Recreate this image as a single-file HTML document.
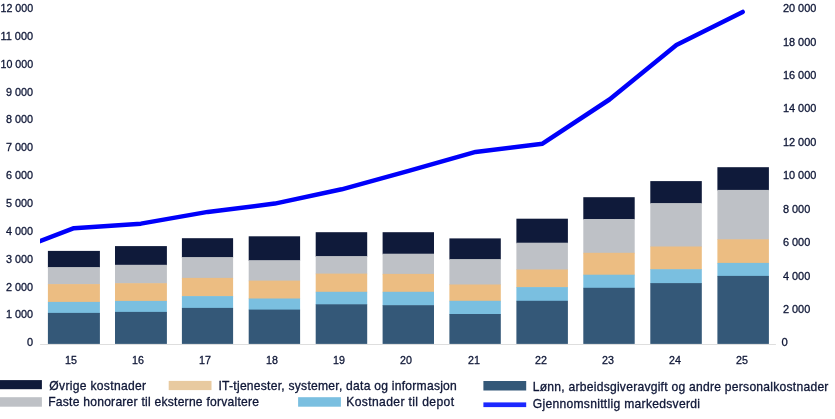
<!DOCTYPE html>
<html lang="no"><head><meta charset="utf-8"><title>Forvaltningskostnader</title>
<style>html,body{margin:0;padding:0;background:#fff}body{width:835px;height:419px;overflow:hidden}svg{display:block}.ax{font-family:"Liberation Sans",sans-serif;font-size:11.2px;fill:#0e1636;stroke:#0e1636;stroke-width:0.3px}.lg{font-family:"Liberation Sans",sans-serif;font-size:12.1px;fill:#0e1636;stroke:#0e1636;stroke-width:0.3px}</style></head><body>
<svg width="835" height="419" viewBox="0 0 835 419">
<rect width="835" height="419" fill="#fff"/>
<defs><clipPath id="plot"><rect x="40.1" y="0" width="740" height="344"/></clipPath></defs>
<rect x="40.1" y="344.0" width="735.8" height="0.8" fill="#d6d6d6"/>
<rect x="47.90" y="250.90" width="52.00" height="16.80" fill="#0f1a3a"/>
<rect x="47.90" y="267.10" width="52.00" height="17.60" fill="#bec1c6"/>
<rect x="47.90" y="284.10" width="52.00" height="18.40" fill="#ecbd82"/>
<rect x="47.90" y="301.90" width="52.00" height="11.60" fill="#7abfe0"/>
<rect x="47.90" y="312.90" width="52.00" height="31.00" fill="#345878"/>
<rect x="115.00" y="246.10" width="51.90" height="19.30" fill="#0f1a3a"/>
<rect x="115.00" y="264.80" width="51.90" height="19.00" fill="#bec1c6"/>
<rect x="115.00" y="283.20" width="51.90" height="18.30" fill="#ecbd82"/>
<rect x="115.00" y="300.90" width="51.90" height="11.60" fill="#7abfe0"/>
<rect x="115.00" y="311.90" width="51.90" height="32.00" fill="#345878"/>
<rect x="181.90" y="238.20" width="51.20" height="19.50" fill="#0f1a3a"/>
<rect x="181.90" y="257.10" width="51.20" height="21.40" fill="#bec1c6"/>
<rect x="181.90" y="277.90" width="51.20" height="18.80" fill="#ecbd82"/>
<rect x="181.90" y="296.10" width="51.20" height="12.40" fill="#7abfe0"/>
<rect x="181.90" y="307.90" width="51.20" height="36.00" fill="#345878"/>
<rect x="248.70" y="236.30" width="51.40" height="24.50" fill="#0f1a3a"/>
<rect x="248.70" y="260.20" width="51.40" height="21.00" fill="#bec1c6"/>
<rect x="248.70" y="280.60" width="51.40" height="18.50" fill="#ecbd82"/>
<rect x="248.70" y="298.50" width="51.40" height="11.70" fill="#7abfe0"/>
<rect x="248.70" y="309.60" width="51.40" height="34.30" fill="#345878"/>
<rect x="315.70" y="232.20" width="51.50" height="24.50" fill="#0f1a3a"/>
<rect x="315.70" y="256.10" width="51.50" height="18.10" fill="#bec1c6"/>
<rect x="315.70" y="273.60" width="51.50" height="18.80" fill="#ecbd82"/>
<rect x="315.70" y="291.80" width="51.50" height="13.10" fill="#7abfe0"/>
<rect x="315.70" y="304.30" width="51.50" height="39.60" fill="#345878"/>
<rect x="382.60" y="232.20" width="51.40" height="22.10" fill="#0f1a3a"/>
<rect x="382.60" y="253.70" width="51.40" height="20.80" fill="#bec1c6"/>
<rect x="382.60" y="273.90" width="51.40" height="18.50" fill="#ecbd82"/>
<rect x="382.60" y="291.80" width="51.40" height="14.00" fill="#7abfe0"/>
<rect x="382.60" y="305.20" width="51.40" height="38.70" fill="#345878"/>
<rect x="449.40" y="238.40" width="51.40" height="21.30" fill="#0f1a3a"/>
<rect x="449.40" y="259.10" width="51.40" height="26.00" fill="#bec1c6"/>
<rect x="449.40" y="284.50" width="51.40" height="16.90" fill="#ecbd82"/>
<rect x="449.40" y="300.80" width="51.40" height="13.80" fill="#7abfe0"/>
<rect x="449.40" y="314.00" width="51.40" height="29.90" fill="#345878"/>
<rect x="516.40" y="218.70" width="51.50" height="24.60" fill="#0f1a3a"/>
<rect x="516.40" y="242.70" width="51.50" height="27.40" fill="#bec1c6"/>
<rect x="516.40" y="269.50" width="51.50" height="18.20" fill="#ecbd82"/>
<rect x="516.40" y="287.10" width="51.50" height="14.30" fill="#7abfe0"/>
<rect x="516.40" y="300.80" width="51.50" height="43.10" fill="#345878"/>
<rect x="583.30" y="197.20" width="51.40" height="22.40" fill="#0f1a3a"/>
<rect x="583.30" y="219.00" width="51.40" height="34.40" fill="#bec1c6"/>
<rect x="583.30" y="252.80" width="51.40" height="22.50" fill="#ecbd82"/>
<rect x="583.30" y="274.70" width="51.40" height="13.70" fill="#7abfe0"/>
<rect x="583.30" y="287.80" width="51.40" height="56.10" fill="#345878"/>
<rect x="650.30" y="181.10" width="51.50" height="22.60" fill="#0f1a3a"/>
<rect x="650.30" y="203.10" width="51.50" height="44.00" fill="#bec1c6"/>
<rect x="650.30" y="246.50" width="51.50" height="23.30" fill="#ecbd82"/>
<rect x="650.30" y="269.20" width="51.50" height="14.50" fill="#7abfe0"/>
<rect x="650.30" y="283.10" width="51.50" height="60.80" fill="#345878"/>
<rect x="717.40" y="167.20" width="51.50" height="23.30" fill="#0f1a3a"/>
<rect x="717.40" y="189.90" width="51.50" height="50.00" fill="#bec1c6"/>
<rect x="717.40" y="239.30" width="51.50" height="24.20" fill="#ecbd82"/>
<rect x="717.40" y="262.90" width="51.50" height="13.60" fill="#7abfe0"/>
<rect x="717.40" y="275.90" width="51.50" height="68.00" fill="#345878"/>
<polyline clip-path="url(#plot)" points="6.90,253.60 73.90,228.20 140.90,223.65 207.80,211.90 274.80,203.60 341.70,189.30 408.70,170.80 475.60,151.90 542.50,143.70 609.50,99.50 676.40,45.10 742.70,11.90" fill="none" stroke="#0000fa" stroke-width="4.5" stroke-linejoin="round" stroke-linecap="round"/>
<text class="ax" x="27.00" y="346.00" textLength="6.1" lengthAdjust="spacingAndGlyphs">0</text>
<text class="ax" x="6.00" y="318.00" textLength="27.1" lengthAdjust="spacingAndGlyphs">1 000</text>
<text class="ax" x="6.00" y="291.00" textLength="27.1" lengthAdjust="spacingAndGlyphs">2 000</text>
<text class="ax" x="6.00" y="263.00" textLength="27.1" lengthAdjust="spacingAndGlyphs">3 000</text>
<text class="ax" x="6.00" y="235.00" textLength="27.1" lengthAdjust="spacingAndGlyphs">4 000</text>
<text class="ax" x="6.00" y="207.00" textLength="27.1" lengthAdjust="spacingAndGlyphs">5 000</text>
<text class="ax" x="6.00" y="179.00" textLength="27.1" lengthAdjust="spacingAndGlyphs">6 000</text>
<text class="ax" x="6.00" y="151.00" textLength="27.1" lengthAdjust="spacingAndGlyphs">7 000</text>
<text class="ax" x="6.00" y="123.00" textLength="27.1" lengthAdjust="spacingAndGlyphs">8 000</text>
<text class="ax" x="6.00" y="96.00" textLength="27.1" lengthAdjust="spacingAndGlyphs">9 000</text>
<text class="ax" x="0.50" y="68.00" textLength="32.6" lengthAdjust="spacingAndGlyphs">10 000</text>
<text class="ax" x="0.50" y="40.00" textLength="32.6" lengthAdjust="spacingAndGlyphs">11 000</text>
<text class="ax" x="0.50" y="12.00" textLength="32.6" lengthAdjust="spacingAndGlyphs">12 000</text>
<text class="ax" x="781.50" y="346.00" textLength="6.3" lengthAdjust="spacingAndGlyphs">0</text>
<text class="ax" x="782.90" y="313.00" textLength="27.4" lengthAdjust="spacingAndGlyphs">2 000</text>
<text class="ax" x="782.90" y="280.00" textLength="27.4" lengthAdjust="spacingAndGlyphs">4 000</text>
<text class="ax" x="782.90" y="246.00" textLength="27.4" lengthAdjust="spacingAndGlyphs">6 000</text>
<text class="ax" x="782.90" y="213.00" textLength="27.4" lengthAdjust="spacingAndGlyphs">8 000</text>
<text class="ax" x="782.90" y="179.00" textLength="33.5" lengthAdjust="spacingAndGlyphs">10 000</text>
<text class="ax" x="782.90" y="146.00" textLength="33.5" lengthAdjust="spacingAndGlyphs">12 000</text>
<text class="ax" x="782.90" y="112.00" textLength="33.5" lengthAdjust="spacingAndGlyphs">14 000</text>
<text class="ax" x="782.90" y="79.00" textLength="33.5" lengthAdjust="spacingAndGlyphs">16 000</text>
<text class="ax" x="782.90" y="46.00" textLength="33.5" lengthAdjust="spacingAndGlyphs">18 000</text>
<text class="ax" x="782.90" y="12.00" textLength="33.5" lengthAdjust="spacingAndGlyphs">20 000</text>
<text class="ax" x="65.00" y="364" textLength="11.9" lengthAdjust="spacingAndGlyphs">15</text>
<text class="ax" x="132.00" y="364" textLength="11.9" lengthAdjust="spacingAndGlyphs">16</text>
<text class="ax" x="199.00" y="364" textLength="11.9" lengthAdjust="spacingAndGlyphs">17</text>
<text class="ax" x="266.00" y="364" textLength="11.9" lengthAdjust="spacingAndGlyphs">18</text>
<text class="ax" x="333.00" y="364" textLength="11.9" lengthAdjust="spacingAndGlyphs">19</text>
<text class="ax" x="400.00" y="364" textLength="11.9" lengthAdjust="spacingAndGlyphs">20</text>
<text class="ax" x="468.00" y="364" textLength="11.9" lengthAdjust="spacingAndGlyphs">21</text>
<text class="ax" x="535.00" y="364" textLength="11.9" lengthAdjust="spacingAndGlyphs">22</text>
<text class="ax" x="602.00" y="364" textLength="11.9" lengthAdjust="spacingAndGlyphs">23</text>
<text class="ax" x="669.00" y="364" textLength="11.9" lengthAdjust="spacingAndGlyphs">24</text>
<text class="ax" x="736.00" y="364" textLength="11.9" lengthAdjust="spacingAndGlyphs">25</text>
<rect x="-0.90" y="380.10" width="42.80" height="9.1" fill="#0f1a3a"/>
<text class="lg" x="49.30" y="390.00" textLength="96.8" lengthAdjust="spacing">Øvrige kostnader</text>
<rect x="168.70" y="380.90" width="42.80" height="9.2" fill="#e8caa0"/>
<text class="lg" x="218.50" y="390.10" textLength="238.3" lengthAdjust="spacing">IT-tjenester, systemer, data og informasjon</text>
<rect x="483.40" y="381.00" width="42.80" height="9.5" fill="#345878"/>
<text class="lg" x="532.70" y="391.10" textLength="295.7" lengthAdjust="spacing">Lønn, arbeidsgiveravgift og andre personalkostnader</text>
<rect x="-0.90" y="397.20" width="42.80" height="9.5" fill="#bec1c6"/>
<text class="lg" x="48.20" y="405.90" textLength="210.8" lengthAdjust="spacing">Faste honorarer til eksterne forvaltere</text>
<rect x="298.10" y="397.20" width="42.80" height="9.5" fill="#7abfe0"/>
<text class="lg" x="346.20" y="405.90" textLength="107.8" lengthAdjust="spacing">Kostnader til depot</text>
<rect x="483.4" y="402.4" width="42.8" height="4.7" fill="#1c28ff"/>
<text class="lg" x="532.70" y="407.70" textLength="167.3" lengthAdjust="spacing">Gjennomsnittlig markedsverdi</text>
</svg></body></html>
